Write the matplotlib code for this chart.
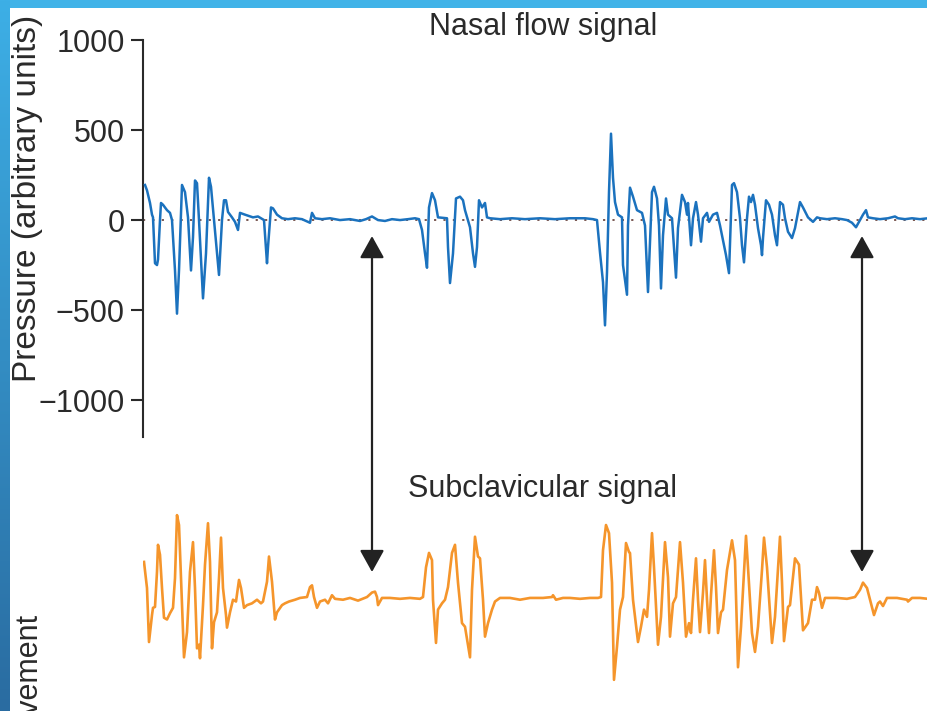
import numpy as np
import matplotlib
matplotlib.use("Agg")
import matplotlib.pyplot as plt
from matplotlib.patches import ConnectionPatch, Rectangle
from matplotlib.colors import LinearSegmentedColormap

plt.rcParams["font.family"] = ["Liberation Sans", "DejaVu Sans"]

# nasal flow: time (s) and pressure (arbitrary units)
flow_t = [0.1, 0.3, 0.6, 0.8, 0.9, 1.1, 1.3, 1.4, 1.6, 1.7, 1.9, 2.3, 2.6, 2.8,
          3.1, 3.3, 3.5, 3.8, 4.1, 4.4, 4.7, 4.9, 5.1, 5.3, 5.5, 5.9, 6.2, 6.5,
          6.7, 7.0, 7.5, 7.8, 8.0, 8.2, 8.4, 8.8, 9.1, 9.4, 9.6, 10.1, 10.9,
          11.4, 12.0, 12.3, 12.4, 12.7, 12.9, 13.3, 13.8, 14.4, 15.1, 15.8,
          16.6, 16.8, 17.1, 17.8, 18.6, 19.6, 20.6, 21.6, 22.2, 22.8, 23.4,
          24.1, 24.8, 25.6, 26.4, 27.1, 27.5,
          27.8, 28.1, 28.3, 28.5, 28.8, 29.1, 29.4, 30.3, 30.4, 30.6, 30.9,
          31.2, 31.6, 31.9, 32.1, 32.6, 32.9, 33.1, 33.3, 33.5, 33.8, 34.1,
          34.3, 34.6, 35.6, 36.8, 38.1, 39.6, 41.1, 42.6, 44.1, 44.9,
          45.3, 45.6, 45.9, 46.1, 46.3, 46.5, 46.7, 46.9, 47.1, 47.4, 47.8,
          47.9, 48.3, 48.4, 48.6, 48.9, 49.3, 49.8, 50.1, 50.4, 50.6, 50.8,
          51.0, 51.3, 51.5, 51.7, 51.9, 52.2, 52.4, 52.8, 53.2, 53.4, 53.8,
          54.1, 54.3, 54.4, 54.7, 54.9, 55.2, 55.4, 55.7, 55.9, 56.3, 56.5,
          56.9, 57.3, 57.6, 58.2, 58.5, 58.8, 59.0, 59.3, 59.6, 59.8, 60.0,
          60.3, 60.5, 60.7, 60.9, 61.1, 61.4, 61.7, 61.8, 61.9, 62.2, 62.5,
          62.8, 63.1, 63.3, 63.6, 63.9, 64.1, 64.4, 64.8, 65.1, 65.6, 65.9,
          66.4, 66.9, 67.3, 67.6,
          68.3, 69.1, 69.8, 70.3, 70.8, 71.2, 71.6, 71.9, 72.2, 72.4, 72.9,
          73.6, 74.4, 75.1, 75.4, 76.1, 76.8, 77.6, 78.4, 79.1]
flow_p = [195, 165, 95, 30, 15, -240, -250, -220, 0, 95, 85, 55, 40, 0,
          -280, -520, -280, 195, 155, 15, -280, -95, 220, 205, 0, -435, -185, 235,
          185, 0, -305, 0, 110, 110, 45, 15, -10, -55, 40, 30, 15,
          20, 0, -240, -150, 70, 65, 30, 10, 5, 10, 5,
          -15, 40, 10, 5, 10, 0, 5, -5, 5, 20, 0,
          -5, 5, 0, 5, 10, 5,
          -55, -185, -265, 70, 150, 110, 15, 10, -150, -350, -185,
          120, 130, 110, 55, -40, -185, -260, -150, 110, 70, 95,
          15, 10, 5, 10, 5, 10, 5, 10, 10, 5,
          0, -180, -345, -585, -290, 155, 480, 235, 100, 30, 15,
          -250, -415, -30, 180, 130, 55, 40, -30, -400, -120, 155,
          185, 120, -30, -380, -85, 120, 30, 10, -320, -45, 140,
          100, 30, 95, -140, 10, 100, 30, -120, 10, 40, -10,
          30, 40, -30, -195, -295, 195, 205, 155, 10, -140, -235,
          10, 130, 100, 140, 85, -45, -140, -195, -100, 110, 85,
          30, -85, -140, 100, 85, 10, -65, -100, -45, 100, 70,
          15, -10, 15, 10,
          5, 10, 5, 0, -15, -40, 0, 30, 55, 15, 10,
          5, 10, 20, 10, 5, 10, 5, 10, 10]

# subclavicular movement: time (s) and displacement (arbitrary units)
move_t = [0.0, 0.3, 0.5, 0.8, 0.9, 1.1, 1.3, 1.4, 1.6, 1.8, 2.0, 2.3, 2.6, 2.9,
          3.1, 3.3, 3.5, 3.8, 4.0, 4.3, 4.6, 4.9, 5.1, 5.3, 5.5, 5.6, 5.9, 6.1,
          6.4, 6.6, 6.8, 7.0, 7.3, 7.5, 7.7, 7.9, 8.2, 8.3, 8.6, 8.9, 9.2, 9.5,
          9.7, 10.0, 10.3, 10.8, 11.3, 11.7, 11.9, 12.3, 12.5, 12.8, 13.1,
          13.3, 13.8, 14.1, 14.5, 15.1, 15.6, 16.3, 16.6, 16.8, 17.0, 17.3,
          17.6, 18.1, 18.4, 18.8, 19.1, 19.9, 20.6, 21.4, 22.3, 22.8, 23.1,
          23.3, 23.4, 23.8, 24.6, 25.6, 26.6, 27.6, 27.9, 28.2, 28.5, 28.8,
          28.9, 29.2, 29.4, 29.8, 30.1, 30.4, 30.8, 31.1, 31.4, 31.8, 32.1,
          32.6, 32.8, 33.1, 33.4, 33.6, 33.9, 34.1, 34.4, 34.8, 35.1, 35.6,
          36.6, 37.6, 38.6, 39.9, 40.8, 40.9, 41.2, 41.9, 42.6, 43.6, 44.6,
          45.4, 45.7, 45.9, 46.2, 46.5, 46.8, 47.0, 47.3, 47.6, 47.9, 48.2,
          48.5, 48.6, 48.9, 49.4, 49.7, 50.0, 50.3, 50.5, 50.8, 51.0, 51.4,
          51.7, 52.1, 52.4, 52.6, 52.9, 53.2, 53.6, 53.9, 54.2, 54.5, 54.7,
          54.9, 55.2, 55.4, 55.6, 55.9, 56.1, 56.3, 56.5, 56.7, 57.0, 57.2,
          57.4, 57.7, 57.9, 58.3, 58.8, 59.1, 59.4, 59.7, 60.2, 60.4, 60.8,
          61.1, 61.4, 61.8, 62.0, 62.3, 62.8, 63.1, 63.6, 63.8, 64.0, 64.4,
          64.6, 65.1, 65.5, 65.9, 66.4, 66.8, 67.1, 67.3, 67.5, 67.8, 68.1,
          69.3, 70.3, 71.1, 71.6, 71.9, 72.3, 72.6, 73.0, 73.4, 73.6, 73.9,
          74.3, 75.3, 76.3, 76.4, 76.8, 77.6, 78.4, 79.1]
move_m = [200, 55, -245, -95, -55, -50, 145, 295, 240, 55, -110, -120, -85, -55,
          110, 460, 405, -40, -330, -190, 145, 310, 55, -280, -260, -335, -40, 185,
          415, 200, -280, -135, -80, 110, 335, 55, -95, -165, -80, -10, -20, 100,
          55, -55, -40, -30, -10, -30, -20, 90, 230, 90, -120,
          -80, -40, -30, -20, -10, 0, 5, 60, 70, 5, -55,
          -20, -10, -30, 15, -5, -10, 0, -15, 5, 30, 35,
          5, -40, 0, 0, -5, 0, -5, 5, 170, 250, 210,
          -10, -250, -65, -30, -10, 60, 250, 295, 85, -140, -160,
          -330, 45, 340, 230, 220, -10, -215, -140, -65, -20, 0,
          0, -10, 0, 0, 5, 15, -10, 0, 0, -5, 0,
          0, 5, 265, 405, 360, 85, -455, -270, -65, 5, 305,
          255, 250, -10, -245, -160, -65, -105, 45, 360, 170, -260,
          -105, 310, 115, -215, -30, 5, 310, 85, -215, -140, -195,
          -10, 220, -10, -190, 30, 210, -10, -195, 15, 265, 60,
          -195, -80, -65, 155, 320, 210, -385, -160, 345, 170, -195,
          -300, -160, 155, 335, 170, -250, -105, 340, 85, -240, -50,
          -40, 220, 185, -180, -140, -10, -10, 60, 30, -55, 0,
          0, -5, 5, 45, 85, 55, -10, -95, -30, -20, -45,
          0, 0, -10, -20, 0, 0, -5, 0]

# times of the two markers joining both traces
arrow_t = [22.8, 71.8]
pressure_ticks = [1000, 500, 0, -500, -1000]

W, H = 928, 711
fig = plt.figure(figsize=(W / 100, H / 100), dpi=100)


def box(x0, y0, x1, y1):
    return [x0 / W, 1 - y1 / H, (x1 - x0) / W, (y1 - y0) / H]


ink = "#2a2a2a"

# nasal flow panel
ax1 = fig.add_axes(box(143, 30, 928, 440))
ax1.axhline(0, color="#6e4a44", lw=1.3, ls=(0, (1.2, 4)), zorder=2)
ax1.plot(flow_t, flow_p, color="#1b72be", lw=1.8, zorder=3,
         solid_joinstyle="round")
ax1.set_xlim(-0.1, 78.4)
ax1.set_ylim(-1222, 1056)
ax1.set_yticks(pressure_ticks)
ax1.set_xticks([])
ax1.tick_params(axis="y", length=9, width=1.5, pad=4, labelsize=22, colors=ink)
for side in ["top", "right", "bottom"]:
    ax1.spines[side].set_visible(False)
ax1.spines["left"].set_bounds(-1205, 1000)
ax1.spines["left"].set_linewidth(1.5)
ax1.spines["left"].set_color(ink)
ax1.patch.set_visible(False)

# subclavicular panel
ax2 = fig.add_axes(box(143, 500, 928, 700))
ax2.plot(move_t, move_m, color="#f5952b", lw=1.9, solid_joinstyle="round")
ax2.set_xlim(-0.1, 78.4)
ax2.set_ylim(-567, 544)
ax2.axis("off")

for t in arrow_t:
    con = ConnectionPatch(xyA=(t, -89), coordsA=ax1.transData,
                          xyB=(t, 144), coordsB=ax2.transData,
                          arrowstyle="<|-|>,head_length=0.9,head_width=0.5",
                          mutation_scale=15, lw=1.6, color="#222222",
                          shrinkA=0, shrinkB=0, zorder=5)
    fig.add_artist(con)

fig.text(543 / W, 1 - 35 / H, "Nasal flow signal", ha="center", va="baseline",
         fontsize=22, color=ink)
fig.text(543 / W, 1 - 497 / H, "Subclavicular signal", ha="center",
         va="baseline", fontsize=22, color=ink)
fig.text(28 / W, 1 - 198 / H, "Pressure (arbitrary units)", rotation=90,
         ha="center", va="center", fontsize=24, color=ink)
fig.text(28 / W, 1 - 612 / H, "Movement", rotation=90, ha="center", va="top",
         fontsize=22, color=ink)

# blue slide frame: flat strip on top, shaded strip on the left
fig.add_artist(Rectangle((0, 1 - 8 / H), 1, 8 / H, transform=fig.transFigure,
                         color="#41b3e8", lw=0, zorder=20))
side_ax = fig.add_axes([0, 0, 10 / W, 1], zorder=20)
shade = LinearSegmentedColormap.from_list("frame", ["#2a6ca1", "#3dafe6"])
side_ax.imshow(np.linspace(0, 1, 256)[::-1, None], cmap=shade, aspect="auto",
               extent=[0, 1, 0, 1])
side_ax.axis("off")

fig.savefig("out.png", dpi=100)
